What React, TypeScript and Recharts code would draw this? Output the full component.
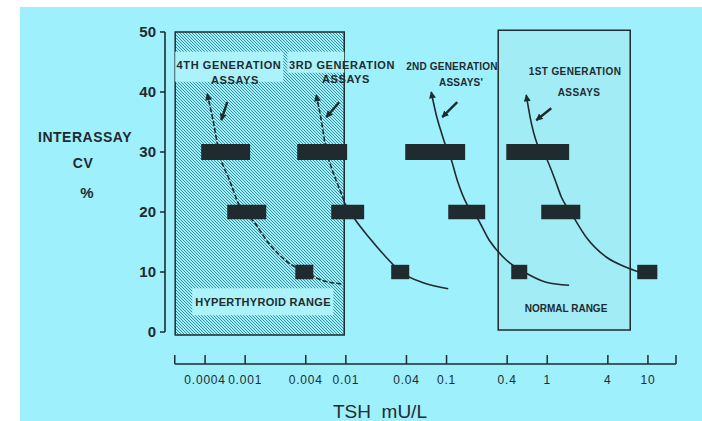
import React from 'react';
import { ComposedChart, Line, XAxis, YAxis, ReferenceArea, ReferenceLine } from 'recharts';

const BG = '#9ef0fc';
const BG_LIGHT = '#acf2fb';
const NORMAL_FILL = '#a2ecf6';
const HATCH = '#3f8f9b';
const INK = '#1f2b2f';
const FONT = '"Liberation Sans", Arial, sans-serif';

// axes
const X_DOMAIN: [number, number] = [0.00016, 19];
const Y_DOMAIN: [number, number] = [-5.33, 50.33];
const X_TICKS = [0.0002, 0.0004, 0.001, 0.004, 0.01, 0.04, 0.1, 0.4, 1, 4, 10, 19];
const X_TICK_LABELS = ['', '0.0004', '0.001', '0.004', '0.01', '0.04', '0.1', '0.4', '1', '4', '10', ''];
const Y_TICKS = [0, 10, 20, 30, 40, 50];

// CV levels of the black bars
const CV_LEVELS = [30, 20, 10];
// TSH range [lo, hi] of each bar, one row per CV level
const BARS_4TH = [[0.000366, 0.00112], [0.000664, 0.00162], [0.00315, 0.00475]];
const BARS_3RD = [[0.00329, 0.0103], [0.00716, 0.0152], [0.0282, 0.0426]];
const BARS_2ND = [[0.0389, 0.153], [0.104, 0.242], [0.439, 0.633]];
const BARS_1ST = [[0.392, 1.65], [0.872, 2.13], [7.83, 12.4]];

// precision profiles [TSH, CV]
const CURVE_4TH = [[0.00042, 39.7], [0.00048, 35.3], [0.00055, 30.0], [0.0007, 25.3], [0.00087, 21.2], [0.00123, 18.3], [0.00173, 14.7], [0.00262, 11.7], [0.00395, 10.0], [0.00544, 8.8], [0.0092, 8.0]];
const CURVE_3RD_A = [[0.00508, 39.5], [0.0057, 35.3], [0.00639, 30.3], [0.00733, 27.0], [0.00859, 24.0], [0.00987, 21.3]];
const CURVE_3RD_B = [[0.00987, 21.3], [0.0124, 18.7], [0.0171, 15.7], [0.0235, 13.0], [0.0355, 10.0], [0.0587, 8.2], [0.104, 7.2]];
const CURVE_2ND = [[0.0705, 40.0], [0.079, 36.2], [0.0906, 32.8], [0.1017, 30.3], [0.1114, 28.7], [0.1277, 25.3], [0.1606, 21.2], [0.197, 19.3], [0.2655, 15.3], [0.392, 12.0], [0.619, 9.8], [0.977, 8.3], [1.65, 7.8]];
const CURVE_1ST = [[0.619, 39.5], [0.678, 35.7], [0.796, 31.3], [0.977, 29.0], [1.2, 25.3], [1.38, 22.5], [1.73, 19.8], [2.44, 15.8], [3.85, 12.5], [6.09, 10.8], [8.2, 10.0]];

// small pointer arrows [from, to]
const PTR_4TH = [[0.000664, 38.3], [0.000579, 35.3]];
const PTR_3RD = [[0.00859, 38.3], [0.00639, 35.8]];
const PTR_2ND = [[0.1277, 38.3], [0.0906, 35.8]];
const PTR_1ST = [[1.096, 37.3], [0.778, 35.3]];

// shaded ranges
const HYPER_TSH = [0.000202, 0.00964];
const HYPER_CV = [-0.5, 50];
const NORMAL_TSH = [0.326, 6.67];
const NORMAL_CV = [0.33, 50.3];
// clear boxes behind labels in the hatched area [tsh lo, tsh hi, cv lo, cv hi]
const LABEL_BOXES = [
  [0.000202, 0.00239, 41.7, 46.7],
  [0.00263, 0.00964, 43.2, 46.7],
  [0.000298, 0.0075, 2.8, 7.3],
];

const BAR_HALF: Record<number, number> = { 30: 1.35, 20: 1.2, 10: 1.2 };

const toPts = (arr: number[][]) => arr.map(([tsh, cv]) => ({ tsh, cv }));

const XTick = (props: any) => {
  const { x, y, payload } = props;
  const i = X_TICKS.indexOf(payload.value);
  return (
    <g>
      <line x1={x} x2={x} y1={y} y2={y - 9} stroke={INK} strokeWidth={1.5} />
      <text x={x} y={y + 16} dy="0.35em" textAnchor="middle" fontSize={12} letterSpacing={0.8} fill={INK} fontFamily={FONT}>
        {X_TICK_LABELS[i]}
      </text>
    </g>
  );
};

const Label = ({ x, y, text, size = 11, bold = true, ls = 0 }: any) => (
  <div
    style={{
      position: 'absolute',
      left: x - 150,
      top: y - size / 2,
      width: 300,
      textAlign: 'center',
      fontSize: size,
      lineHeight: `${size}px`,
      fontWeight: bold ? 700 : 400,
      letterSpacing: ls,
      color: INK,
      whiteSpace: 'pre',
    }}
  >
    {text}
  </div>
);

export default function App() {
  const bars = [BARS_4TH, BARS_3RD, BARS_2ND, BARS_1ST];
  return (
    <div style={{ position: 'absolute', left: 0, top: 0, width: 702, height: 421, background: '#fff', overflow: 'hidden', fontFamily: FONT }}>
      <div style={{ position: 'absolute', left: 20, top: 7, right: 0, bottom: 0, background: BG }} />
      <div style={{ position: 'absolute', left: 0, top: 0 }}>
        <ComposedChart width={702} height={421} margin={{ top: 30, right: 26, bottom: 17, left: 105 }}>
          <defs>
            <pattern id="hatch" patternUnits="userSpaceOnUse" width="3" height="3">
              <rect width="3" height="3" fill={BG} />
              <path d="M-1,-1 L4,4 M-1,2 L1,4 M2,-1 L4,1" stroke={HATCH} strokeWidth="1" />
            </pattern>
            <marker id="tip" viewBox="0 0 10 10" refX="9" refY="5" markerWidth="8" markerHeight="7" markerUnits="userSpaceOnUse" orient="auto-start-reverse">
              <path d="M0,0 L10,5 L0,10 z" fill={INK} />
            </marker>
            <marker id="ptr" viewBox="0 0 10 10" refX="9" refY="5" markerWidth="7" markerHeight="7" markerUnits="userSpaceOnUse" orient="auto">
              <path d="M0,0 L10,5 L0,10 z" fill={INK} />
            </marker>
          </defs>
          <XAxis
            dataKey="tsh"
            type="number"
            scale="log"
            domain={X_DOMAIN}
            allowDataOverflow
            ticks={X_TICKS}
            interval={0}
            axisLine={false}
            tickLine={false}
            tickSize={0}
            tickMargin={0}
            height={40}
            tick={<XTick />}
          />
          <YAxis
            type="number"
            domain={Y_DOMAIN}
            allowDataOverflow
            ticks={Y_TICKS}
            interval={0}
            width={60}
            axisLine={false}
            tickLine={{ stroke: INK, strokeWidth: 1.5 }}
            tickSize={5}
            tickMargin={4}
            tick={{ fontSize: 15, fontWeight: 700, fill: INK, fontFamily: FONT }}
          />

          <ReferenceArea x1={HYPER_TSH[0]} x2={HYPER_TSH[1]} y1={HYPER_CV[0]} y2={HYPER_CV[1]} fill="url(#hatch)" fillOpacity={1} stroke={INK} strokeWidth={1.5} ifOverflow="visible" />
          {LABEL_BOXES.map(([x1, x2, y1, y2], i) => (
            <ReferenceArea key={`lb${i}`} x1={x1} x2={x2} y1={y1} y2={y2} fill={BG_LIGHT} fillOpacity={1} stroke="none" ifOverflow="visible" />
          ))}
          <ReferenceArea x1={NORMAL_TSH[0]} x2={NORMAL_TSH[1]} y1={NORMAL_CV[0]} y2={NORMAL_CV[1]} fill={NORMAL_FILL} fillOpacity={1} stroke={INK} strokeWidth={1.5} ifOverflow="visible" />

          {bars.map((gen, g) =>
            gen.map(([lo, hi], i) => (
              <ReferenceArea
                key={`b${g}-${i}`}
                x1={lo}
                x2={hi}
                y1={CV_LEVELS[i] - BAR_HALF[CV_LEVELS[i]]}
                y2={CV_LEVELS[i] + BAR_HALF[CV_LEVELS[i]]}
                fill={INK}
                fillOpacity={1}
                stroke="none"
                ifOverflow="visible"
              />
            ))
          )}

          <ReferenceLine segment={[{ x: X_DOMAIN[0], y: 0 }, { x: X_DOMAIN[0], y: 50 }]} stroke={INK} strokeWidth={1.6} ifOverflow="visible" />
          <ReferenceLine segment={[{ x: X_TICKS[0], y: Y_DOMAIN[0] }, { x: X_TICKS[X_TICKS.length - 1], y: Y_DOMAIN[0] }]} stroke={INK} strokeWidth={1.6} ifOverflow="visible" />

          <Line data={toPts(CURVE_4TH)} dataKey="cv" type="monotone" stroke={INK} strokeWidth={1.6} strokeDasharray="5 2" dot={false} activeDot={false} isAnimationActive={false} markerStart="url(#tip)" />
          <Line data={toPts(CURVE_3RD_A)} dataKey="cv" type="monotone" stroke={INK} strokeWidth={1.6} strokeDasharray="5 2" dot={false} activeDot={false} isAnimationActive={false} markerStart="url(#tip)" />
          <Line data={toPts(CURVE_3RD_B)} dataKey="cv" type="monotone" stroke={INK} strokeWidth={1.6} dot={false} activeDot={false} isAnimationActive={false} />
          <Line data={toPts(CURVE_2ND)} dataKey="cv" type="monotone" stroke={INK} strokeWidth={1.6} dot={false} activeDot={false} isAnimationActive={false} markerStart="url(#tip)" />
          <Line data={toPts(CURVE_1ST)} dataKey="cv" type="monotone" stroke={INK} strokeWidth={1.6} dot={false} activeDot={false} isAnimationActive={false} markerStart="url(#tip)" />

          {[PTR_4TH, PTR_3RD, PTR_2ND, PTR_1ST].map((p, i) => (
            <Line key={`p${i}`} data={toPts(p)} dataKey="cv" type="linear" stroke={INK} strokeWidth={2.4} dot={false} activeDot={false} isAnimationActive={false} markerEnd="url(#ptr)" />
          ))}
        </ComposedChart>
      </div>

      <Label x={229} y={65} text="4TH GENERATION" size={11} ls={0.6} />
      <Label x={235} y={80} text="ASSAYS" size={11} ls={0.6} />
      <Label x={342} y={65} text="3RD GENERATION" size={11} ls={0.6} />
      <Label x={346} y={79} text="ASSAYS" size={11} ls={0.6} />
      <Label x={452} y={67} text="2ND GENERATION" size={10} ls={0.2} />
      <Label x={461} y={83} text="ASSAYS'" size={10} ls={0.2} />
      <Label x={575} y={72} text="1ST GENERATION" size={10} ls={0.4} />
      <Label x={579} y={93} text="ASSAYS" size={10} ls={0.4} />
      <Label x={263} y={302} text="HYPERTHYROID RANGE" size={11} ls={0.3} />
      <Label x={566} y={309} text="NORMAL RANGE" size={10} />
      <Label x={85} y={137} text="INTERASSAY" size={14} ls={0.5} />
      <Label x={83} y={163} text="CV" size={14} ls={0.5} />
      <Label x={87} y={192} text="%" size={15} />
      <Label x={380} y={411} text="TSH  mU/L" size={19} bold={false} />
    </div>
  );
}
